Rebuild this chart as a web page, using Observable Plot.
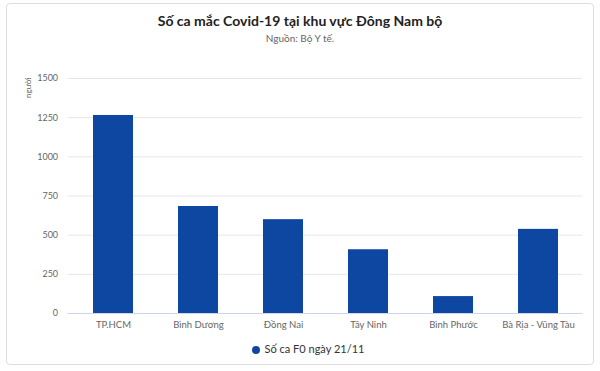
<!DOCTYPE html>
<html>
<head>
<meta charset="utf-8">
<script src="https://cdn.jsdelivr.net/npm/d3@7"></script>
<script src="https://cdn.jsdelivr.net/npm/@observablehq/plot@0.6"></script>
<style>
  html, body { margin: 0; padding: 0; background: #fff; }
  body { width: 600px; height: 371px; position: relative; overflow: hidden; font-family: Lato, "Noto Sans", sans-serif; }
  #card { position: absolute; left: 6px; top: 3px; width: 588px; height: 362px; border: 1px solid #dedede; border-radius: 4px; box-sizing: border-box; }
  #title { position: absolute; left: 0; top: 12px; width: 600px; text-align: center; font-size: 14px; font-weight: bold; color: #222; }
  #subtitle { position: absolute; left: 0; top: 32px; width: 600px; text-align: center; font-size: 10px; color: #666; }
  #chart { position: absolute; left: 0; top: 60px; }
  #legend { position: absolute; left: 8px; top: 342px; width: 600px; text-align: center; font-size: 11px; color: #333; }
  #legend .dot { display: inline-block; width: 8px; height: 8px; border-radius: 50%; background: #0e47a1; margin-right: 5px; vertical-align: -0.5px; }
</style>
</head>
<body>
<div id="card"></div>
<div id="title">Số ca mắc Covid-19 tại khu vực Đông Nam bộ</div>
<div id="subtitle">Nguồn: Bộ Y tế.</div>
<div id="chart"></div>
<div id="legend"><span class="dot"></span>Số ca F0 ngày 21/11</div>
<script>
const categories = ["TP.HCM", "Bình Dương", "Đồng Nai", "Tây Ninh", "Bình Phước", "Bà Rịa - Vũng Tàu"];
const values = [1264, 683, 599, 407, 108, 537];
const yTicks = [0, 250, 500, 750, 1000, 1250, 1500];
const seriesName = "Số ca F0 ngày 21/11";
const yLabel = "người";

const data = categories.map((c, i) => ({category: c, value: values[i]}));
const barColor = "#0e47a1";

const plot = Plot.plot({
  width: 600,
  height: 280,
  marginLeft: 67.6,
  marginRight: 17.6,
  marginTop: 18,
  marginBottom: 27,
  style: {fontFamily: "Lato, 'Noto Sans', sans-serif", background: "transparent"},
  x: {domain: categories, paddingInner: 0.53, paddingOuter: 0.265, label: null},
  y: {domain: [0, 1500], label: null},
  marks: [
    Plot.gridY(yTicks, {stroke: "#e6e6e6", strokeOpacity: 1, strokeWidth: 1}),
    Plot.axisY(yTicks, {tickSize: 0, tickPadding: 10, fontSize: 9, fill: "#666", label: null, tickFormat: d3.format("d")}),
    Plot.axisX({tickSize: 0, tickPadding: 8, fontSize: 9.5, fill: "#666", label: null}),
    Plot.barY(data, {x: "category", y: "value", fill: barColor, title: d => `${seriesName}: ${d.value}`}),
    Plot.ruleY([0], {stroke: "#ccd6eb"}),
    Plot.text([yLabel], {frameAnchor: "top-left", rotate: -90, textAnchor: "end", dx: -43, dy: -1, fontSize: 8, fill: "#666"})
  ]
});
document.getElementById("chart").appendChild(plot);
</script>
</body>
</html>
